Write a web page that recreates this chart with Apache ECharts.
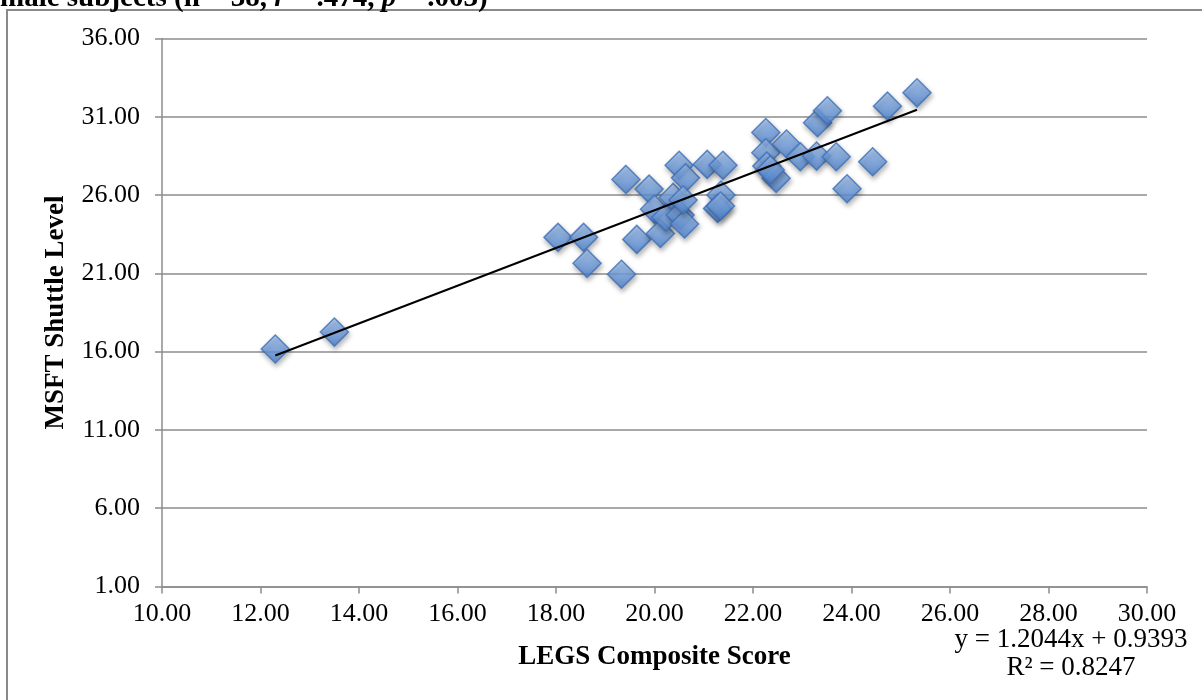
<!DOCTYPE html>
<html lang="en">
<head>
    <meta charset="UTF-8">
    <title>MSFT vs LEGS</title>
    <style>
        html, body { margin: 0; padding: 0; background: #fff; }
    </style>
</head>
<body>
<div id="main" style="width: 1202px; height: 700px;"></div>

<script src="https://cdn.jsdelivr.net/npm/echarts@6/dist/echarts.min.js"></script>
<script type="text/javascript">
    // LEGS composite score (x) and MSFT shuttle level (y)
    var legsScore = [12.30, 13.50, 18.04, 18.56, 18.63, 19.33, 19.42, 19.64, 19.89, 20.00,
                     20.12, 20.23, 20.38, 20.50, 20.52, 20.61, 20.63, 20.58, 21.07, 21.39,
                     21.35, 21.28, 21.34, 22.26, 22.26, 22.28, 22.47, 22.68, 22.96, 23.29,
                     23.31, 23.51, 23.69, 23.91, 24.43, 24.73, 25.33, 22.35];
    var msftLevel = [16.17, 17.25, 23.30, 23.30, 21.64, 20.94, 27.00, 23.17, 26.38, 25.09,
                     23.55, 24.58, 25.85, 27.90, 24.72, 24.15, 27.10, 25.68, 27.96, 27.90,
                     26.00, 25.15, 25.30, 30.00, 28.70, 27.85, 27.07, 29.26, 28.45, 28.49,
                     30.62, 31.38, 28.45, 26.40, 28.13, 31.68, 32.53, 27.60];

    // linear trendline as printed on the chart
    var trendSlope = 1.2044;
    var trendIntercept = 0.9393;
    var trendR2 = 0.8247;

    var points = legsScore.map(function (x, i) { return [x, msftLevel[i]]; });
    var xMin = Math.min.apply(null, legsScore);
    var xMax = Math.max.apply(null, legsScore);
    var trendLine = [
        [xMin, trendSlope * xMin + trendIntercept],
        [xMax, trendSlope * xMax + trendIntercept]
    ];

    var serif = 'Liberation Serif';
    var axisGray = '#8c8c8c';

    var myChart = echarts.init(document.getElementById('main'));
    var option = {
        animation: false,
        backgroundColor: '#fff',
        grid: {
            left: 162,
            right: 55,
            top: 38.5,
            bottom: 113.5
        },
        graphic: [
            {   // outer frame
                type: 'rect',
                z: -10,
                shape: { x: 7, y: 10, width: 1400, height: 900 },
                style: { fill: 'none', stroke: '#8a8a8a', lineWidth: 2 }
            },
            {   // title, cut off at the top edge
                type: 'text',
                x: 0,
                y: -16,
                style: {
                    text: '{b|male subjects (n = 38, }{i|r}{b| = .474, }{i|p}{b| = .003)}',
                    rich: {
                        b: { fontFamily: serif, fontWeight: 'bold', fontSize: 29, fill: '#000' },
                        i: { fontFamily: serif, fontWeight: 'bold', fontStyle: 'italic', fontSize: 29, fill: '#000' }
                    }
                }
            },
            {
                type: 'text',
                x: 1071,
                y: 626,
                style: {
                    text: 'y = ' + trendSlope.toFixed(4) + 'x + ' + trendIntercept.toFixed(4),
                    textAlign: 'center',
                    fontFamily: serif,
                    fontSize: 27,
                    fill: '#000'
                }
            },
            {
                type: 'text',
                x: 1071,
                y: 654,
                style: {
                    text: 'R² = ' + trendR2.toFixed(4),
                    textAlign: 'center',
                    fontFamily: serif,
                    fontSize: 27,
                    fill: '#000'
                }
            }
        ],
        xAxis: {
            type: 'value',
            min: 10,
            max: 30,
            interval: 2,
            name: 'LEGS Composite Score',
            nameLocation: 'middle',
            nameGap: 57,
            nameTextStyle: { fontFamily: serif, fontWeight: 'bold', fontSize: 27, color: '#000' },
            axisLine: { show: true, onZero: false, lineStyle: { color: axisGray, width: 1.5 } },
            axisTick: { show: true, inside: false, length: 7, lineStyle: { color: axisGray, width: 1.5 } },
            axisLabel: {
                margin: 15,
                fontFamily: serif,
                fontSize: 26,
                color: '#000',
                formatter: function (v) { return v.toFixed(2); }
            },
            splitLine: { show: false }
        },
        yAxis: {
            type: 'value',
            min: 1,
            max: 36,
            interval: 5,
            name: 'MSFT Shuttle Level',
            nameLocation: 'middle',
            nameGap: 92,
            nameTextStyle: { fontFamily: serif, fontWeight: 'bold', fontSize: 27, color: '#000' },
            axisLine: { show: true, lineStyle: { color: axisGray, width: 1.5 } },
            axisTick: { show: true, inside: false, length: 7, lineStyle: { color: axisGray, width: 1.5 } },
            axisLabel: {
                margin: 22,
                fontFamily: serif,
                fontSize: 26,
                color: '#000',
                formatter: function (v) { return v.toFixed(2); }
            },
            splitLine: { show: true, lineStyle: { color: axisGray, width: 1.5 } }
        },
        series: [
            {
                name: 'MSFT',
                type: 'scatter',
                symbol: 'diamond',
                symbolSize: [28, 28],
                data: points,
                itemStyle: {
                    color: new echarts.graphic.LinearGradient(0, 0, 0, 1, [
                        { offset: 0, color: '#a6c6f2' },
                        { offset: 0.5, color: '#74a2e2' },
                        { offset: 1, color: '#4b80cc' }
                    ]),
                    borderColor: '#3c6fb8',
                    borderWidth: 1.5,
                    shadowBlur: 5,
                    shadowOffsetX: 1,
                    shadowOffsetY: 3,
                    shadowColor: 'rgba(0,0,0,0.35)'
                },
                z: 2
            },
            {
                name: 'Trend',
                type: 'line',
                data: trendLine,
                symbol: 'none',
                lineStyle: { color: '#000', width: 2 },
                z: 3
            }
        ]
    };
    myChart.setOption(option);
</script>

</body>
</html>
